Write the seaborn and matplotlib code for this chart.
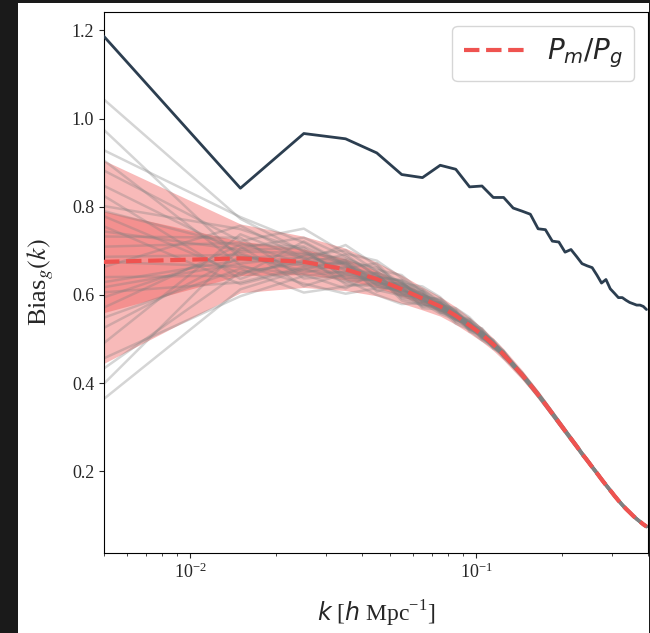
import numpy as np
import pandas as pd
import matplotlib.pyplot as plt
import seaborn as sns
from matplotlib.patches import Rectangle
from matplotlib.font_manager import FontProperties

sns.set_style('ticks')
plt.rcParams['font.family'] = ['Liberation Serif', 'DejaVu Serif']
plt.rcParams['mathtext.fontset'] = 'stix'

# k bin centres [h/Mpc]
k_bins = [0.005, 0.015, 0.025, 0.035, 0.045, 0.055, 0.065, 0.075, 0.085, 0.095,
          0.105, 0.115, 0.125, 0.135, 0.145, 0.155, 0.165, 0.175, 0.185, 0.195,
          0.205, 0.215, 0.225, 0.235, 0.245, 0.255, 0.265, 0.275, 0.285, 0.295,
          0.305, 0.315, 0.325, 0.335, 0.345, 0.355, 0.365, 0.375, 0.385, 0.395]

# single measurement (dark line)
bias_data = [1.186, 0.842, 0.966, 0.954, 0.922, 0.873, 0.866, 0.894, 0.885, 0.845,
             0.847, 0.821, 0.821, 0.797, 0.790, 0.783, 0.750, 0.748, 0.722, 0.720,
             0.697, 0.703, 0.687, 0.671, 0.666, 0.662, 0.645, 0.627, 0.635, 0.614,
             0.604, 0.594, 0.594, 0.588, 0.583, 0.580, 0.577, 0.577, 0.574, 0.567]

# mean P_m/P_g and its scatter
bias_mean = [0.675, 0.683, 0.675, 0.658, 0.636, 0.613, 0.592, 0.574, 0.553, 0.531,
             0.510, 0.488, 0.465, 0.441, 0.419, 0.396, 0.374, 0.352, 0.331, 0.311,
             0.292, 0.274, 0.257, 0.240, 0.225, 0.210, 0.196, 0.182, 0.169, 0.157,
             0.145, 0.134, 0.124, 0.115, 0.107, 0.099, 0.092, 0.086, 0.080, 0.075]
bias_std = [0.115, 0.039, 0.029, 0.024, 0.019, 0.016, 0.013, 0.011, 0.010, 0.009,
            0.008, 0.007, 0.0065, 0.006, 0.0055, 0.005, 0.0048, 0.0046, 0.0044, 0.0042,
            0.004, 0.0038, 0.0036, 0.0034, 0.0032, 0.003, 0.0029, 0.0028, 0.0027, 0.0026,
            0.0025, 0.0024, 0.0023, 0.0022, 0.0021, 0.002, 0.002, 0.0019, 0.0019, 0.0018]

# individual realisations: offsets (in units of the scatter) for the first 14 bins,
# plus one offset for the remaining high-k bins
real_low = [
    [3.2, 2.3, 0.8, -0.5, 0.3, 1.1, -0.2, 0.6, -0.9, 0.4, 0.1, -0.6, 0.5, 0.2],
    [-2.7, -1.8, -0.6, 0.9, -0.4, 0.2, 1.2, -0.7, 0.3, -1.1, 0.6, 0.2, -0.4, -0.3],
    [2.2, 2.4, 1.5, 0.4, -0.8, -0.3, 0.5, 1.3, 0.2, -0.5, -0.9, 0.4, 0.7, 0.1],
    [-2.4, 0.6, 1.9, 1.2, 0.5, -0.6, -1.4, 0.1, 0.8, 0.3, -0.2, -0.8, 0.2, 0.5],
    [2.0, -0.4, -1.7, -2.3, -1.1, 0.4, 0.9, -0.3, -1.2, 0.7, 1.0, 0.3, -0.6, -0.4],
    [1.8, 1.0, 2.6, 1.5, 2.2, 1.6, 0.3, -0.5, 0.4, 1.1, -0.3, 0.6, 0.9, 0.3],
    [-1.9, -2.2, -1.1, -0.2, 0.7, -1.3, -0.6, 0.9, -0.1, -0.8, 0.5, -0.4, 0.1, -0.7],
    [1.5, 0.3, -0.9, 0.7, 1.4, 0.8, 2.1, 1.9, 0.6, -0.4, 0.8, 1.2, -0.3, 0.6],
    [-1.6, 1.4, 0.2, -1.0, -1.9, -2.1, -0.8, -1.5, -0.9, 0.2, -0.7, -1.1, -0.5, 0.1],
    [1.3, -1.2, 0.5, 1.8, 0.9, 0.1, -0.4, 0.3, 1.7, 2.0, 1.2, 0.5, 0.8, -0.2],
    [-1.3, 0.1, -0.3, 0.6, -0.7, 0.9, 0.2, -1.0, -0.5, -1.3, -1.6, -0.9, -0.2, -0.6],
    [1.1, 1.7, 0.9, -0.8, 0.2, 1.3, 1.5, 0.7, -0.2, 0.6, 0.3, 1.5, 1.1, 0.8],
    [-1.1, -0.6, -2.4, -1.6, -0.5, 0.3, -0.9, -0.2, 0.5, -0.6, -0.1, 0.2, -0.9, -0.5],
    [0.9, -0.9, 0.1, 2.3, 1.6, -0.2, 0.6, 1.1, 1.0, 0.1, 0.7, -0.3, 0.4, 0.9],
    [-0.9, 0.8, 1.2, 0.3, -1.3, -0.9, 0.4, 0.5, -1.4, -0.2, 0.4, 0.8, 0.3, -0.1],
    [0.7, -1.5, -0.5, -1.2, 0.1, 0.6, -1.7, -0.6, 0.1, 0.9, -0.5, -0.2, 0.6, 0.4],
    [-0.7, 0.4, 0.7, 1.0, 1.1, 2.0, 1.0, 0.2, 0.7, 1.4, 1.5, 0.9, 0.2, 0.7],
    [0.5, 1.2, -1.3, -0.6, -0.2, -0.5, -0.1, -1.1, -0.7, -0.3, 0.2, -0.5, -1.2, -0.8],
    [-0.5, -0.3, 0.4, -1.4, -0.9, -0.1, 0.7, 0.4, 1.3, 0.5, -0.6, 0.1, 0.5, 0.2],
    [0.3, 0.9, -0.2, 0.2, 0.6, -0.7, -0.3, -0.8, 0.3, 0.8, 0.9, -0.7, -0.1, -0.3],
    [-0.3, -1.0, 1.6, 0.5, -0.3, 0.5, 1.6, 1.0, -0.3, -0.9, -0.4, 0.4, 1.3, 0.5],
    [0.1, 0.2, -0.7, -0.3, 0.4, -1.6, -1.1, -0.4, -1.8, -1.0, 0.1, -0.1, 0.0, -0.2],
    [-0.1, 1.9, 0.3, 0.8, -1.5, 0.7, 0.1, 1.6, 0.9, 0.3, -1.1, 0.6, -0.7, 0.3],
    [0.0, -0.5, -1.0, -1.8, 0.8, 1.0, -0.5, 0.0, -0.4, 1.6, 0.3, -1.4, 0.2, -0.4],
    [2.6, 0.0, 0.6, -0.1, -0.6, -0.4, 0.8, -0.9, 0.6, -0.1, 1.8, 0.7, -0.8, 0.2],
    [-2.1, -0.8, -0.1, 1.4, 0.3, 1.2, -0.7, 0.8, -0.6, 0.6, -0.8, -0.6, 0.6, 0.0],
    [0.6, 0.5, 1.1, -0.9, -0.1, -1.1, 0.0, -1.3, 0.4, -0.7, 0.6, 1.0, -0.3, 0.6],
    [-0.6, -1.4, -0.4, 0.1, 1.9, 0.0, -1.2, 0.6, -0.8, 1.1, -0.3, -1.0, 0.9, -0.1],
    [1.0, 0.7, -1.9, -0.4, -0.2, 0.8, 0.3, -0.1, 1.1, -1.6, 0.0, 0.3, -0.4, 0.4],
    [-0.4, -0.1, 0.0, 0.6, 0.0, -0.8, 1.3, -0.2, -0.3, 0.0, -1.3, -0.3, 0.0, -0.6],
]
real_tail = [0.3, -0.5, 0.8, -0.2, 0.1, 0.6, -0.8, 0.4, -0.3, 0.9,
             -0.9, 0.2, -0.1, 0.5, -0.4, 0.0, 0.7, -0.6, 0.2, -0.2,
             0.4, -0.7, 0.1, -0.1, 0.3, -0.4, 0.6, -0.3, 0.0, 0.5]

k = np.array(k_bins)
mean = np.array(bias_mean)
std = np.array(bias_std)

rows = []
n_low = len(real_low[0])
for i, (zl, zt) in enumerate(zip(real_low, real_tail)):
    z = np.array(zl + [zt] * (len(k) - n_low))
    for kk, b in zip(k, mean + z * std):
        rows.append({'k': kk, 'bias': b, 'real': i})
df_real = pd.DataFrame(rows)
df_data = pd.DataFrame({'k': k, 'bias': bias_data})
df_mean = pd.DataFrame({'k': k, 'bias': mean})

red = '#ef5350'
navy = '#2c3e50'

fig = plt.figure(figsize=(6.5, 6.33), dpi=100, facecolor='#1a1a1a')
fig.add_artist(Rectangle((18 / 650, 0), 1 - 19 / 650, 1 - 3 / 633,
                         transform=fig.transFigure, facecolor='white',
                         edgecolor='none', zorder=-10))
ax = fig.add_axes([0.16, 0.1264, 0.837, 0.855])

# bands first, realisations over them
ax.fill_between(k, mean - 2 * std, mean + 2 * std, color=red, alpha=0.4,
                lw=0, zorder=1)
ax.fill_between(k, mean - std, mean + std, color=red, alpha=0.4,
                lw=0, zorder=1)
sns.lineplot(data=df_real, x='k', y='bias', units='real', estimator=None,
             color='gray', alpha=0.33, lw=1.8, ax=ax, zorder=2)
sns.lineplot(data=df_mean, x='k', y='bias', color=red, lw=3, ls='--',
             label=r'$P_m/P_g$', ax=ax, zorder=3)
sns.lineplot(data=df_data, x='k', y='bias', color=navy, lw=2, ax=ax, zorder=3)

ax.set_xscale('log')
ax.set_xlim(0.005, 0.4)
ax.set_ylim(0.015, 1.242)

ax.tick_params(labelsize=13)
ax.set_ylabel(r'Bias$_g(k)$', fontsize=19, labelpad=11)
ax.set_xlabel(r'$k$ [$h$ Mpc$^{\mathdefault{-1}}$]', fontsize=17, labelpad=12,
              math_fontfamily='dejavusans')

leg = ax.legend(loc='upper right', handlelength=2.2,
                prop=FontProperties(size=20, math_fontfamily='dejavusans'))
for sp in ax.spines.values():
    sp.set_color('black')

fig.savefig('out.png', dpi=100, facecolor=fig.get_facecolor())
